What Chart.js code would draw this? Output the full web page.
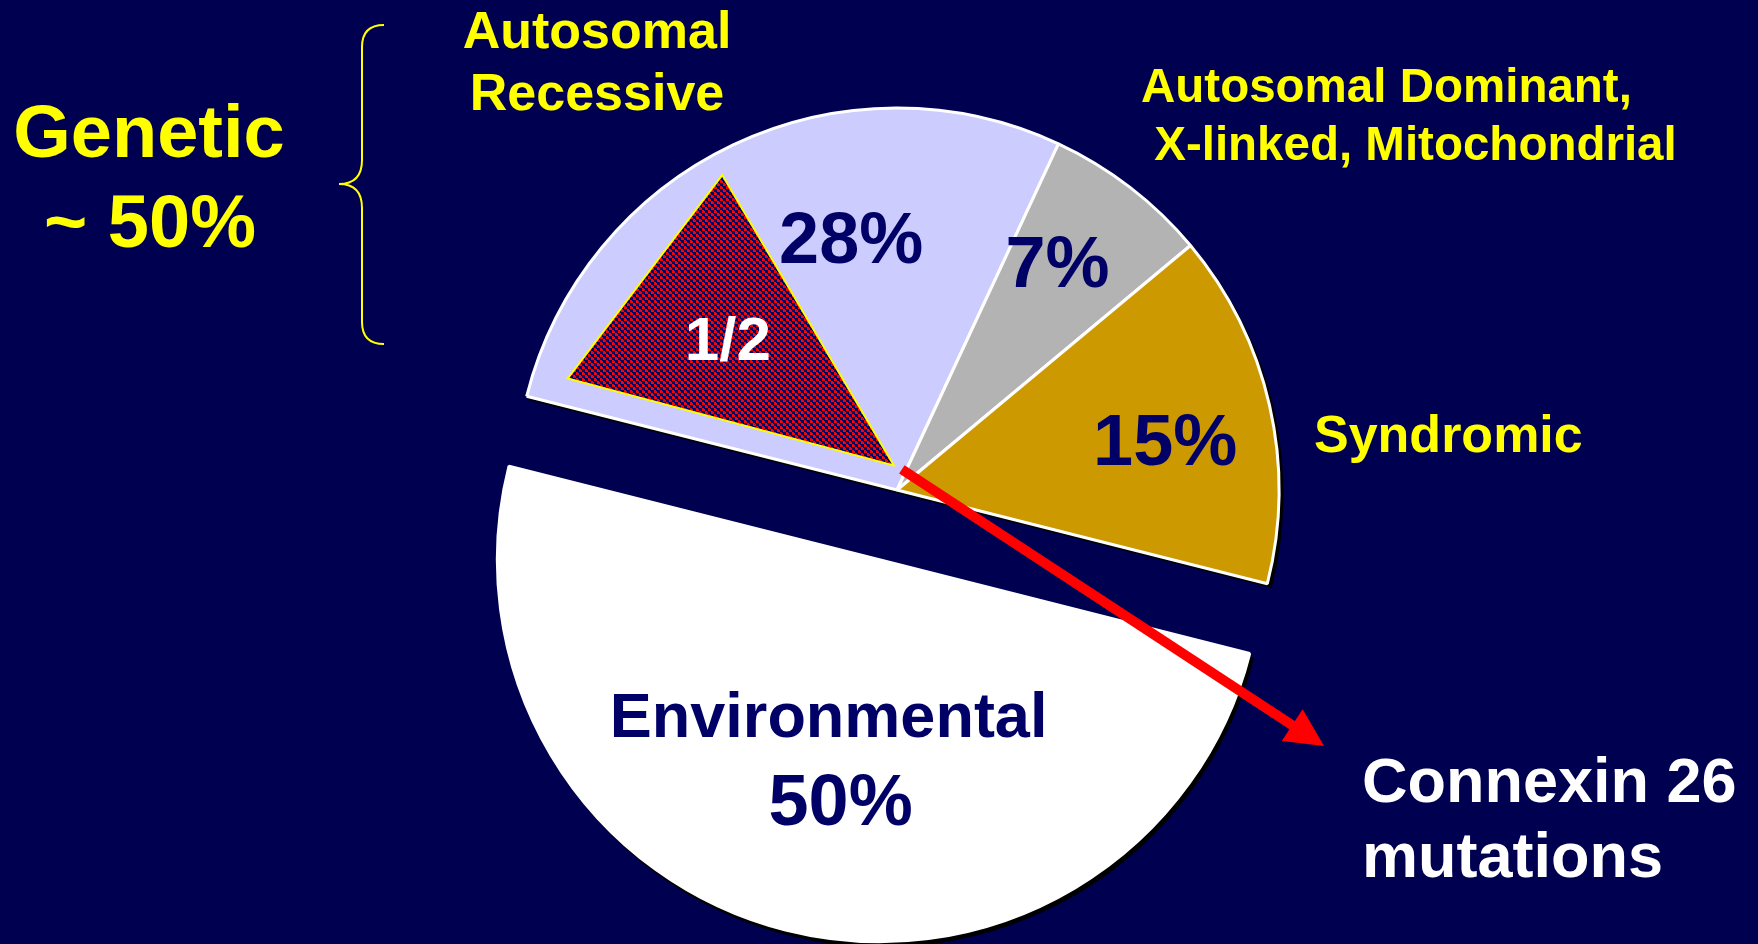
<!DOCTYPE html>
<html>
<head>
<meta charset="utf-8">
<title>Causes of hearing loss</title>
<script src="https://cdn.jsdelivr.net/npm/chart.js@4.4.1/dist/chart.umd.min.js"></script>
<style>
  html, body { margin: 0; padding: 0; background: #000050; overflow: hidden; }
  #wrap { width: 1758px; height: 944px; position: relative; }
</style>
</head>
<body>
<div id="wrap"><canvas id="myChart"></canvas></div>
<script>
// slices, clockwise from the environmental half
const categories = [['Environmental'], ['Autosomal', 'Recessive'], ['Autosomal Dominant,', ' X-linked, Mitochondrial'], ['Syndromic']]
const shares = [50, 28, 7, 15]
const sliceColors = ['#ffffff', '#ccccff', '#b3b3b3', '#cc9900']
const connexinPart = '1/2'
const connexinNote = ['Connexin 26', 'mutations']

const INK = '#000066'
const YELLOW = '#ffff00'
const FONT = '"Liberation Sans", Arial, Helvetica, sans-serif'
const EXPLODE = 72

function font(size) {
  return 'bold ' + size + 'px ' + FONT
}

// where the value labels sit: degrees away from the slice middle, fraction of radius
const valueSpots = [
  { turn: -1.9, dist: 0.525 },
  { turn: 14, dist: 0.607 },
  { turn: 0.7, dist: 0.678 },
  { turn: 7.5, dist: 0.705 }
]

// pull the environmental slice away from the genetic ones
const explodePlugin = {
  id: 'explode',
  afterDatasetUpdate(chart) {
    const arc = chart.getDatasetMeta(0).data[0]
    const mid = (arc.startAngle + arc.endAngle) / 2
    arc.x += Math.cos(mid) * EXPLODE
    arc.y += Math.sin(mid) * EXPLODE
  }
}

// hard black drop shadow under every slice
const shadowPlugin = {
  id: 'sliceShadow',
  beforeDatasetDraw(chart) {
    const ctx = chart.ctx
    ctx.save()
    ctx.fillStyle = '#000000'
    chart.getDatasetMeta(0).data.forEach(function (arc) {
      const r = arc.outerRadius + 1.5
      ctx.beginPath()
      ctx.moveTo(arc.x + 3, arc.y + 4)
      ctx.arc(arc.x + 3, arc.y + 4, r, arc.startAngle, arc.endAngle)
      ctx.closePath()
      ctx.fill()
    })
    ctx.restore()
  }
}

function dotPattern(ctx) {
  const tile = document.createElement('canvas')
  tile.width = 6
  tile.height = 6
  const t = tile.getContext('2d')
  t.fillStyle = '#000066'
  t.fillRect(0, 0, 6, 6)
  t.fillStyle = '#ff0000'
  t.fillRect(0, 0, 3, 3)
  t.fillRect(3, 3, 3, 3)
  t.fillStyle = '#000066'
  t.fillRect(2, 0, 1, 1)
  t.fillRect(5, 3, 1, 1)
  return ctx.createPattern(tile, 'repeat')
}

const labelPlugin = {
  id: 'labels',
  afterDraw(chart) {
    const ctx = chart.ctx
    const arcs = chart.getDatasetMeta(0).data
    ctx.save()

    // connexin share of the recessive slice
    const ar = arcs[1]
    const span = ar.endAngle - ar.startAngle
    const at = function (f, r) {
      const a = ar.startAngle + f * span
      return [ar.x + Math.cos(a) * r * ar.outerRadius, ar.y + Math.sin(a) * r * ar.outerRadius]
    }
    const tri = [at(0.045, 0.91), at(0.464, 0.943), at(0.68, 0.065)]
    ctx.beginPath()
    ctx.moveTo(tri[0][0], tri[0][1])
    ctx.lineTo(tri[1][0], tri[1][1])
    ctx.lineTo(tri[2][0], tri[2][1])
    ctx.closePath()
    ctx.fillStyle = dotPattern(ctx)
    ctx.fill()
    ctx.strokeStyle = YELLOW
    ctx.lineWidth = 2
    ctx.lineJoin = 'miter'
    ctx.stroke()
    const cx = (tri[0][0] + tri[1][0] + tri[2][0]) / 3
    const cy = (tri[0][1] + tri[1][1] + tri[2][1]) / 3
    ctx.fillStyle = '#ffffff'
    ctx.font = font(62)
    ctx.textAlign = 'center'
    ctx.textBaseline = 'alphabetic'
    ctx.fillText(connexinPart, cx, cy + 20)

    // value labels inside the slices
    ctx.fillStyle = INK
    arcs.forEach(function (arc, i) {
      const spot = valueSpots[i]
      const a = (arc.startAngle + arc.endAngle) / 2 + spot.turn * Math.PI / 180
      const x = arc.x + Math.cos(a) * spot.dist * arc.outerRadius
      const y = arc.y + Math.sin(a) * spot.dist * arc.outerRadius
      if (i === 0) {
        ctx.font = font(63)
        ctx.fillText(categories[0][0], x - 8, y - 19)
        ctx.font = font(72)
        ctx.fillText(shares[0] + '%', x + 4, y + 69)
      } else {
        ctx.font = font(72)
        ctx.fillText(shares[i] + '%', x, y)
      }
    })

    // category names around the pie
    ctx.fillStyle = YELLOW
    ctx.font = font(52)
    ctx.fillText(categories[1][0], 597, 48)
    ctx.fillText(categories[1][1], 597, 110)
    ctx.textAlign = 'left'
    ctx.font = font(47.5)
    ctx.fillText(categories[2][0], 1141, 102)
    ctx.fillText(categories[2][1], 1141, 160)
    ctx.font = font(52)
    ctx.fillText(categories[3][0], 1314, 452)

    // genetic total and its brace
    const genetic = shares[1] + shares[2] + shares[3]
    ctx.textAlign = 'center'
    ctx.font = font(74)
    ctx.fillText('Genetic', 149, 157)
    ctx.fillText('~ ' + genetic + '%', 150, 247)

    ctx.strokeStyle = YELLOW
    ctx.lineWidth = 2
    ctx.beginPath()
    ctx.moveTo(384, 25)
    ctx.quadraticCurveTo(362, 25, 362, 47)
    ctx.lineTo(362, 160)
    ctx.quadraticCurveTo(362, 184, 339, 184)
    ctx.quadraticCurveTo(362, 184, 362, 208)
    ctx.lineTo(362, 322)
    ctx.quadraticCurveTo(362, 344, 384, 344)
    ctx.stroke()

    // arrow to the connexin note
    const sx = tri[2][0] + 8, sy = tri[2][1] + 4
    const tx = 1324, ty = 746
    const ang = Math.atan2(ty - sy, tx - sx)
    const headLen = 38, headHalf = 19
    const bx = tx - Math.cos(ang) * headLen, by = ty - Math.sin(ang) * headLen
    ctx.strokeStyle = '#ff0000'
    ctx.lineWidth = 10
    ctx.lineCap = 'butt'
    ctx.beginPath()
    ctx.moveTo(sx, sy)
    ctx.lineTo(bx + Math.cos(ang) * 4, by + Math.sin(ang) * 4)
    ctx.stroke()
    ctx.fillStyle = '#ff0000'
    ctx.beginPath()
    ctx.moveTo(tx, ty)
    ctx.lineTo(bx - Math.sin(ang) * headHalf, by + Math.cos(ang) * headHalf)
    ctx.lineTo(bx + Math.sin(ang) * headHalf, by - Math.cos(ang) * headHalf)
    ctx.closePath()
    ctx.fill()

    ctx.fillStyle = '#ffffff'
    ctx.textAlign = 'left'
    ctx.font = font(63)
    ctx.fillText(connexinNote[0], 1362, 802)
    ctx.fillText(connexinNote[1], 1362, 877)

    ctx.restore()
  }
}

const ctx = document.getElementById('myChart').getContext('2d')
const myChart = new Chart(ctx, {
  type: 'pie',
  data: {
    labels: categories,
    datasets: [{
      data: shares,
      backgroundColor: sliceColors,
      borderColor: '#ffffff',
      borderWidth: 3
    }]
  },
  options: {
    responsive: true,
    maintainAspectRatio: false,
    animation: false,
    events: [],
    rotation: 104.2,
    radius: 382,
    layout: {
      padding: { left: 36, top: 36, right: 0, bottom: 0 }
    },
    plugins: {
      legend: { display: false },
      tooltip: { enabled: false }
    }
  },
  plugins: [explodePlugin, shadowPlugin, labelPlugin]
})
</script>
</body>
</html>
